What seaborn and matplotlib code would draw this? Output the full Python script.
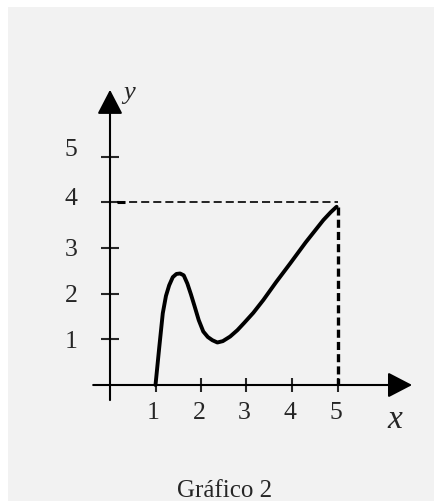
import matplotlib
matplotlib.use("Agg")
import matplotlib.pyplot as plt
import matplotlib.transforms as mtransforms
import seaborn as sns
import pandas as pd
from matplotlib.patches import Rectangle

# ---- data ----
curve_x = [1.0, 1.08, 1.16, 1.23, 1.30, 1.38, 1.46, 1.54, 1.62, 1.70, 1.78, 1.86,
           1.95, 2.05, 2.15, 2.25, 2.36, 2.48, 2.64, 2.80, 2.95, 3.15, 3.37, 3.65,
           3.96, 4.30, 4.69, 4.85, 4.98]
curve_y = [0.0, 0.80, 1.57, 1.95, 2.18, 2.36, 2.43, 2.44, 2.40, 2.22, 1.98, 1.72,
           1.42, 1.17, 1.05, 0.98, 0.93, 0.96, 1.06, 1.20, 1.36, 1.58, 1.86, 2.25,
           2.66, 3.12, 3.61, 3.78, 3.90]
x_ticks = [1, 2, 3, 4, 5]
y_ticks = [1, 2, 3, 4, 5]
guide_x = 5
guide_y = 4
caption = "Gráfico 2"

plt.rcParams['lines.scale_dashes'] = False
sns.set_style("white")
plt.rcParams['font.family'] = ['Liberation Serif', 'DejaVu Serif']

W, H = 435, 501
fig = plt.figure(figsize=(W / 100, H / 100), dpi=100)
fig.patch.set_facecolor('white')
fig.add_artist(Rectangle((8 / W, 0), 1 - 8 / W, 1 - 7 / H, transform=fig.transFigure,
                         facecolor='#f2f2f2', edgecolor='none', zorder=-10))

ax = fig.add_axes([0, 0, 1, 1])
ax.set_facecolor('none')
ppu_x, ppu_y = 45.5, 45.7
x0px, y0px = 110, 385
ax.set_xlim(-x0px / ppu_x, (W - x0px) / ppu_x)
ax.set_ylim(-(H - y0px) / ppu_y, y0px / ppu_y)

# axes lines with arrows
arrow = dict(arrowstyle='-|>,head_length=1.5,head_width=0.78', mutation_scale=10,
             lw=1.5, color='black', shrinkA=0, shrinkB=0)
ax.annotate('', xy=(6.64, 0), xytext=(-0.37, 0), arrowprops=arrow)
ax.annotate('', xy=(0, 6.46), xytext=(0, -0.33), arrowprops=arrow)

for s in ax.spines.values():
    s.set_visible(False)
ax.spines['left'].set_position(('data', 0))
ax.spines['bottom'].set_position(('data', 0))

ax.set_xticks(x_ticks)
ax.set_yticks(y_ticks)
ax.set_xticklabels([str(v) for v in x_ticks])
ax.set_yticklabels([str(v) for v in y_ticks])
ax.tick_params(axis='x', direction='inout', length=10, width=1.5, pad=7,
               labelsize=18.5, bottom=True, top=False)
ax.tick_params(axis='y', direction='inout', length=13, width=1.5, pad=17,
               labelsize=18.5, left=True, right=False)

# small visual offsets of the upper y labels (as in the reference)
y_label_shift_px = {5: 9, 4: 6}
for lab, val in zip(ax.get_yticklabels(), y_ticks):
    if val in y_label_shift_px:
        off = mtransforms.ScaledTranslation(0, y_label_shift_px[val] / 100, fig.dpi_scale_trans)
        lab.set_transform(lab.get_transform() + off)
for lab in ax.get_xticklabels():
    off = mtransforms.ScaledTranslation(-2 / 100, 0, fig.dpi_scale_trans)
    lab.set_transform(lab.get_transform() + off)

# guide lines
ax.plot([0.15, guide_x], [guide_y, guide_y], color='black', lw=1.2,
        ls=(0, (5.8, 2.9)), zorder=3)
ax.plot([0.15, 0.33], [guide_y, guide_y], color='black', lw=2.2,
        solid_capstyle='butt', zorder=3)
ax.plot([guide_x, guide_x], [guide_y - 0.1, 0], color='black', lw=2.4,
        ls=(0, (5.8, 3.0)), zorder=3)

# curve
df = pd.DataFrame({'x': curve_x, 'y': curve_y})
sns.lineplot(data=df, x='x', y='y', ax=ax, color='black', lw=2.8, sort=False,
             estimator=None, zorder=4)
ax.set_xlabel('')
ax.set_ylabel('')

ax.text(6.26, -0.76, 'x', style='italic', fontsize=24, ha='center', va='center')
ax.text(0.42, 6.4, 'y', style='italic', fontsize=19, ha='center', va='center')

fig.text(225 / W, 4 / H, caption, fontsize=18, ha='center', va='baseline')

fig.savefig('out.png', dpi=100, facecolor=fig.get_facecolor())
